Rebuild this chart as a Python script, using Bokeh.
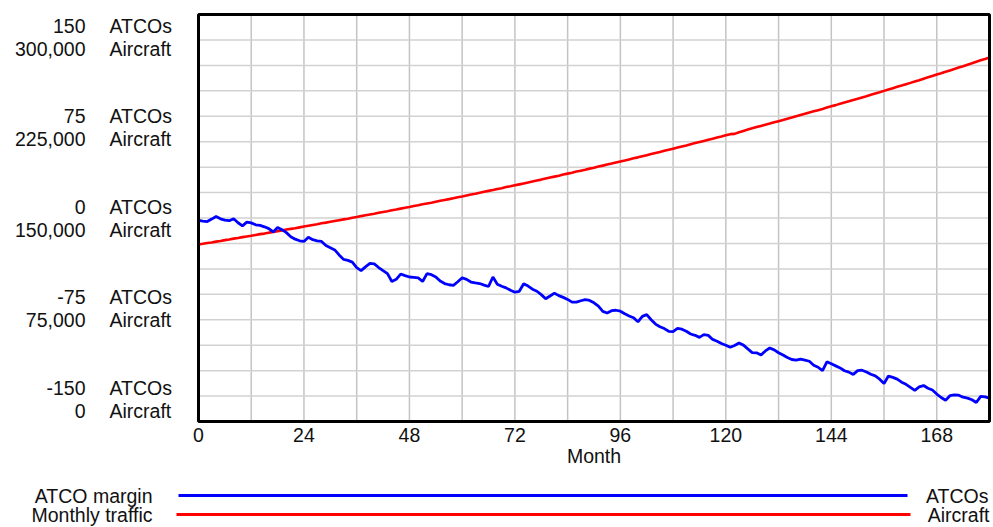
from bokeh.plotting import figure
from bokeh.models import Range1d, FixedTicker
from bokeh.core.properties import value
from bokeh.embed import file_html
from bokeh.resources import INLINE

# ---------------- data ----------------
months = list(range(0, 181))

atco_margin = [
    -1.8, -2.3, -2.6, -0.8, 1.1, -0.6, -1.6, -2.0, -0.6, -3.5,
    -5.8, -3.0, -3.6, -5.0, -5.4, -6.5, -7.8, -10.3, -7.0, -8.6,
    -10.8, -13.8, -15.6, -16.8, -17.3, -14.2, -16.0, -16.9, -17.3, -20.3,
    -21.9, -23.5, -27.2, -30.5, -31.2, -32.5, -36.5, -38.8, -36.0, -33.5,
    -33.8, -36.5, -38.8, -41.0, -46.8, -45.2, -41.3, -42.5, -43.5, -43.8,
    -44.2, -46.8, -41.0, -41.8, -43.5, -46.5, -48.3, -49.2, -49.6, -47.0,
    -44.0, -45.2, -47.2, -47.8, -48.3, -49.5, -50.5, -43.5, -48.8, -50.3,
    -51.5, -53.3, -54.7, -54.0, -48.5, -50.2, -52.5, -54.0, -56.5, -59.5,
    -57.5, -55.4, -57.2, -58.5, -60.0, -62.0, -62.0, -61.0, -60.2, -60.8,
    -62.5, -65.0, -68.8, -70.0, -68.3, -68.0, -68.7, -70.6, -72.2, -73.5,
    -76.5, -72.5, -71.2, -75.0, -78.2, -80.2, -81.5, -83.5, -83.7, -81.4,
    -82.0, -83.5, -85.5, -86.5, -88.0, -86.0, -86.5, -89.5, -90.8, -92.5,
    -93.8, -95.3, -94.0, -92.2, -93.7, -96.5, -99.2, -99.4, -101.0, -98.0,
    -95.8, -97.2, -99.3, -101.0, -102.8, -104.3, -104.8, -104.0, -104.8, -105.6,
    -108.5, -110.0, -112.5, -106.0, -107.5, -109.0, -110.5, -112.6, -113.6, -115.3,
    -112.5, -112.2, -113.5, -115.2, -116.4, -118.8, -122.0, -116.5, -117.5, -118.8,
    -121.0, -122.6, -124.8, -127.0, -124.5, -123.5, -125.5, -126.8, -129.8, -132.3,
    -134.3, -131.0, -130.4, -130.6, -132.1, -132.8, -134.0, -136.0, -131.5, -131.8,
    -132.8,
]

monthly_traffic_thousands = [
    130.5, 131.0, 131.6, 132.0, 132.6, 133.1, 133.7, 134.2, 134.8, 135.2,
    135.9, 136.4, 136.9, 137.5, 138.1, 138.5, 139.2, 139.7, 140.3, 140.8,
    141.5, 142.0, 142.5, 143.1, 143.7, 144.3, 144.9, 145.4, 146.1, 146.6,
    147.2, 147.8, 148.4, 149.0, 149.5, 150.2, 150.7, 151.4, 152.0, 152.6,
    153.1, 153.8, 154.4, 155.0, 155.7, 156.2, 156.9, 157.5, 158.1, 158.8,
    159.4, 160.1, 160.7, 161.3, 162.0, 162.7, 163.3, 163.9, 164.6, 165.3,
    165.9, 166.6, 167.3, 167.9, 168.6, 169.3, 170.0, 170.6, 171.4, 172.0,
    172.8, 173.4, 174.1, 174.8, 175.5, 176.2, 176.9, 177.6, 178.3, 179.1,
    179.8, 180.5, 181.2, 182.0, 182.7, 183.4, 184.2, 184.9, 185.6, 186.4,
    187.1, 187.9, 188.6, 189.4, 190.1, 190.9, 191.7, 192.4, 193.2, 194.0,
    194.7, 195.5, 196.3, 197.1, 197.9, 198.7, 199.5, 200.3, 201.1, 201.9,
    202.7, 203.5, 204.4, 205.2, 206.0, 206.8, 207.6, 208.4, 209.3, 210.1,
    211.0, 211.8, 212.0, 213.2, 214.2, 215.2, 216.1, 217.0, 217.9, 218.8,
    219.6, 220.5, 221.4, 222.3, 223.2, 224.1, 225.0, 225.9, 226.8, 227.7,
    228.6, 229.5, 230.4, 231.4, 232.3, 233.2, 234.2, 235.1, 236.0, 237.0,
    237.9, 238.9, 239.8, 240.8, 241.8, 242.7, 243.7, 244.7, 245.7, 246.7,
    247.6, 248.6, 249.6, 250.6, 251.6, 252.7, 253.7, 254.7, 255.7, 256.7,
    257.8, 258.8, 259.8, 260.9, 261.9, 263.0, 264.0, 265.1, 266.2, 267.2,
    268.3,
]
monthly_traffic = [v * 1000 for v in monthly_traffic_thousands]

series_names = ["ATCO margin", "Monthly traffic"]
series_units = ["ATCOs", "Aircraft"]
series_colors = ["#0000ff", "#ff0000"]

x_tick_values = [0, 24, 48, 72, 96, 120, 144, 168]
x_grid_step = 12
atco_ticks = [150, 75, 0, -75, -150]
aircraft_ticks = [300000, 225000, 150000, 75000, 0]
y_grid_divisions = 16

# ---------------- geometry (canvas pixels) ----------------
W, H = 993, 527
PL, PR, PT, PB = 198, 989, 14, 421          # plot-area box
X0, X1 = 0, 180
Y0, Y1 = atco_ticks[-1], atco_ticks[0]
kx = (PR - PL) / (X1 - X0)                   # px per month
ky = (PB - PT) / (Y1 - Y0)                   # px per ATCO


def px_x(px):
    return X0 + (px - PL) / kx


def px_y(py):
    return Y1 - (py - PT) / ky


aircraft_per_atco = (aircraft_ticks[0] - aircraft_ticks[-1]) / (Y1 - Y0)

FONT = "Liberation Sans"
FS = "19.5px"
TXT = "#111111"

xr = Range1d(px_x(0), px_x(W))
yr = Range1d(px_y(H), px_y(0))
p = figure(width=W, height=H, x_range=xr, y_range=yr,
           output_backend="svg", toolbar_location=None,
           y_axis_location=None, min_border=0,
           outline_line_color=None,
           background_fill_color="white", border_fill_color="white")
p.extra_y_ranges = {"aircraft": Range1d((yr.start - Y0) * aircraft_per_atco,
                                        (yr.end - Y0) * aircraft_per_atco)}
p.grid.visible = False

# x axis pinned to the bottom of the plot box
ax = p.xaxis[0]
ax.fixed_location = Y0
ax.bounds = (X0, X1)
ax.ticker = FixedTicker(ticks=x_tick_values)
ax.axis_line_color = None
ax.major_tick_line_color = None
ax.minor_tick_line_color = None
ax.major_tick_out = 0
ax.major_tick_in = 0
ax.major_label_standoff = 6
ax.major_label_text_font = FONT
ax.major_label_text_font_size = FS
ax.major_label_text_color = TXT
ax.axis_label = "Month"
ax.axis_label_text_font = FONT
ax.axis_label_text_font_size = FS
ax.axis_label_text_font_style = "normal"
ax.axis_label_text_color = TXT
ax.axis_label_standoff = 0

# grid lines inside the plot box
gx = list(range(X0, X1 + 1, x_grid_step))
p.segment(x0=gx, y0=[Y0] * len(gx), x1=gx, y1=[Y1] * len(gx),
          line_color="#c4c4c4", line_width=1.5)
y_step = (Y1 - Y0) / y_grid_divisions
gy = [Y0 + i * y_step for i in range(y_grid_divisions + 1)]
p.segment(x0=[X0] * len(gy), y0=gy, x1=[X1] * len(gy), y1=gy,
          line_color="#d2d2d2", line_width=1.5)

# data
p.line(months, monthly_traffic, y_range_name="aircraft",
       line_color=series_colors[1], line_width=2.6)
p.line(months, atco_margin, line_color=series_colors[0], line_width=2.8)

# plot box border
p.quad(left=[X0], right=[X1], bottom=[Y0], top=[Y1], fill_color=None,
       line_color="black", line_width=3)

# stacked y-axis labels (ATCOs over Aircraft)
half_span = 22.5  # px the label pairs are pulled inward at the ends
num_x, unit_x, num_y, unit_y, num_t, unit_t = [], [], [], [], [], []
for a_val, c_val in zip(atco_ticks, aircraft_ticks):
    shift = half_span * a_val / Y1
    for txt, unit, dpx in ((f"{a_val}", series_units[0], shift - 11.5),
                           (f"{c_val:,}", series_units[1], shift + 11.5)):
        yy = a_val - dpx / ky
        num_x.append(px_x(85)); num_y.append(yy); num_t.append(txt)
        unit_x.append(px_x(109)); unit_y.append(yy); unit_t.append(unit)
p.text(x=num_x, y=num_y, text=num_t, text_align="right", text_baseline="middle",
       text_font=value(FONT), text_font_size=value(FS), text_color=TXT)
p.text(x=unit_x, y=unit_y, text=unit_t, text_align="left", text_baseline="middle",
       text_font=value(FONT), text_font_size=value(FS), text_color=TXT)

# legend rows under the chart
rows_y = [px_y(495), px_y(514)]
p.text(x=[px_x(152)] * 2, y=rows_y, text=series_names, text_align="right",
       text_baseline="middle", text_font=value(FONT), text_font_size=value(FS),
       text_color=TXT)
p.segment(x0=[px_x(178), px_x(176)], y0=rows_y, x1=[px_x(907), px_x(910)], y1=rows_y,
          line_color=series_colors, line_width=3)
p.text(x=[px_x(988), px_x(989)], y=rows_y, text=series_units, text_align="right",
       text_baseline="middle", text_font=value(FONT), text_font_size=value(FS),
       text_color=TXT)

open("out.html", "w").write(file_html(p, INLINE))
